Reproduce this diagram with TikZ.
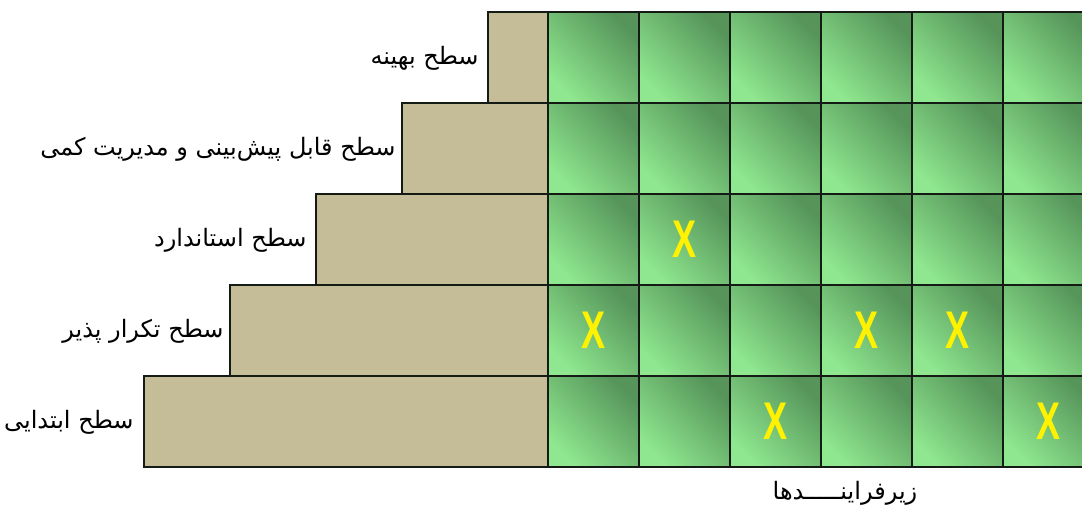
\documentclass[tikz,border=0pt]{standalone}
\usepackage{fontspec}
\TeXXeTstate=1
\newfontfamily\arabicfont[Script=Arabic]{DejaVu Sans}
\newfontfamily\xfont{Liberation Sans}

\definecolor{levelfill}{RGB}{196,189,151}
\definecolor{celllight}{RGB}{143,232,143}
\definecolor{celldark}{RGB}{86,148,90}
\definecolor{edgegray}{RGB}{20,26,20}

\begin{document}
\begin{tikzpicture}[x = 0.5pt, y = -0.5pt,
	levelbox/.style = {draw = edgegray, line width = 0.8pt, fill = levelfill},
	cell/.style = {draw = edgegray, line width = 1pt, top color = celldark, bottom color = celllight, shading angle = -45, minimum width = 45.5pt, minimum height = 45.5pt, inner sep = 0pt, outer sep = 0pt},
	levellabel/.style = {font = \arabicfont\fontsize{12}{14}\selectfont, inner sep = 0pt},
	xmark/.style = {font = \xfont\bfseries\fontsize{26.5}{28}\selectfont, text = yellow, inner sep = 0pt}]
	%	sizes
	
	\def\cellw{91}
	\def\stepw{86}
	
	\def\gridx{548}
	\def\gridy{12}
	
	\clip (0, 0) rectangle (1082, 513);
	
	%	steps
	\foreach \r in {0,...,4}
		\draw[levelbox] ({\gridx - 60 - \stepw*\r}, {\gridy + \cellw*\r}) rectangle ({\gridx}, {\gridy + \cellw*(\r + 1)});
	
	%	levels
	\node[levellabel, anchor = east] (lvl-5) at (479, 58) {\beginR سطح بهینه\endR};
	\node[levellabel, anchor = east] (lvl-4) at (396, 149) {\beginR سطح قابل پیش‌بینی و مدیریت کمی\endR};
	\node[levellabel, anchor = east] (lvl-3) at (307, 240) {\beginR سطح استاندارد\endR};
	\node[levellabel, anchor = east] (lvl-2) at (224, 331) {\beginR سطح تکرار پذیر\endR};
	\node[levellabel, anchor = east] (lvl-1) at (134, 422) {\beginR سطح ابتدایی\endR};
	
	%	subprocess grid
	\foreach \r in {0,...,4}
		\foreach \c in {0,...,5}
			\node[cell] (cell-\r-\c) at ({\gridx + \cellw*(\c + 0.5)}, {\gridy + \cellw*(\r + 0.5)}) {};
	
	%	marks
	\node[xmark] (x-2-1) at (cell-2-1) {\scalebox{0.68}[1]{X}};
	\node[xmark] (x-3-0) at (cell-3-0) {\scalebox{0.68}[1]{X}};
	\node[xmark] (x-3-3) at (cell-3-3) {\scalebox{0.68}[1]{X}};
	\node[xmark] (x-3-4) at (cell-3-4) {\scalebox{0.68}[1]{X}};
	\node[xmark] (x-4-2) at (cell-4-2) {\scalebox{0.68}[1]{X}};
	\node[xmark] (x-4-5) at (cell-4-5) {\scalebox{0.68}[1]{X}};
	
	%	axis
	\node[levellabel] (subproc) at (845, 493) {\beginR زیرفراینـــــدها\endR};
\end{tikzpicture}
\end{document}
